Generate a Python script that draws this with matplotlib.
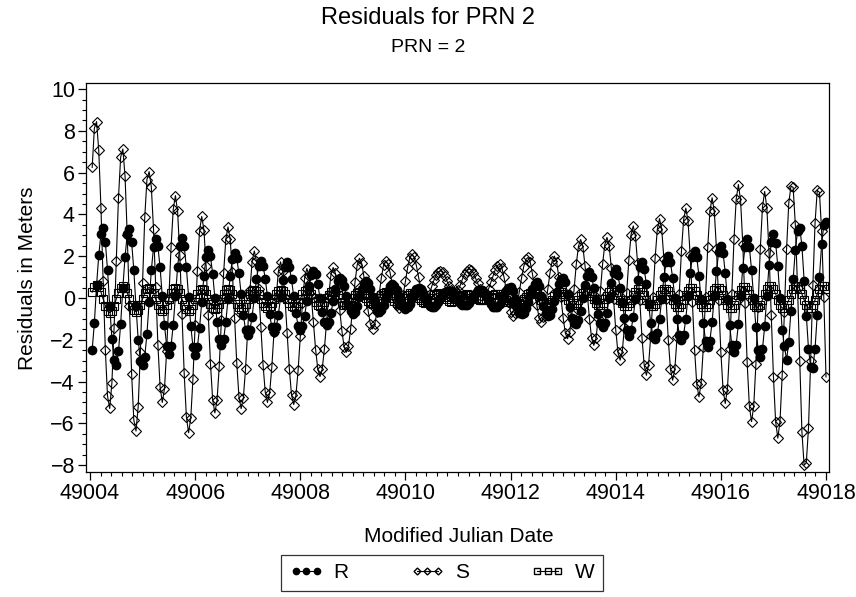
import numpy as np
import matplotlib
matplotlib.use("Agg")
import matplotlib.pyplot as plt
from matplotlib.lines import Line2D
from matplotlib.ticker import MultipleLocator

plt.rcParams['font.family'] = ['Liberation Sans', 'DejaVu Sans']

# hourly epochs: MJD 49004 + 1h ... 49018
start_mjd = 49004.0
hours = np.arange(1, 337)
mjd = start_mjd + hours / 24.0

# residuals in meters, one row per half day (12 hourly values)
resid_r = [
    -2.48, -1.19, 0.6, 2.05, 3.05, 3.37, 2.68, 1.35, -0.39, -1.95, -2.98, -3.19,
    -2.56, -1.24, 0.5, 1.97, 3.05, 3.32, 2.68, 1.34, -0.4, -1.99, -3.03, -3.22,
    -2.81, -1.71, -0.19, 1.32, 2.43, 2.84, 2.47, 1.46, 0.09, -1.29, -2.3, -2.67,
    -2.3, -1.29, 0.09, 1.47, 2.48, 2.85, 2.48, 1.46, 0.07, -1.32, -2.34, -2.71,
    -2.37, -1.46, -0.2, 1.05, 1.96, 2.3, 1.99, 1.16, 0.02, -1.13, -1.96, -2.27,
    -1.97, -1.16, -0.05, 1.06, 1.87, 2.17, 1.9, 1.18, 0.19, -0.8, -1.52, -1.79,
    -1.55, -0.9, -0.01, 0.89, 1.54, 1.78, 1.55, 0.93, 0.08, -0.78, -1.4, -1.63,
    -1.41, -0.8, 0.03, 0.87, 1.48, 1.7, 1.48, 0.89, 0.08, -0.74, -1.33, -1.55,
    -1.36, -0.84, -0.13, 0.59, 1.11, 1.3, 1.13, 0.65, 0.0, -0.65, -1.13, -1.3,
    -1.15, -0.73, -0.16, 0.41, 0.83, 0.98, 0.86, 0.55, 0.11, -0.32, -0.64, -0.76,
    -0.65, -0.37, 0.03, 0.42, 0.71, 0.82, 0.72, 0.45, 0.07, -0.3, -0.58, -0.68,
    -0.59, -0.34, -0.01, 0.33, 0.58, 0.67, 0.59, 0.37, 0.08, -0.22, -0.44, -0.52,
    -0.45, -0.27, -0.01, 0.24, 0.43, 0.5, 0.44, 0.26, 0.03, -0.21, -0.39, -0.45,
    -0.42, -0.33, -0.18, 0.0, 0.17, 0.29, 0.34, 0.35, 0.31, 0.2, 0.05, -0.1,
    -0.23, -0.32, -0.35, -0.32, -0.22, -0.07, 0.1, 0.26, 0.36, 0.4, 0.36, 0.25,
    0.08, -0.1, -0.28, -0.41, -0.45, -0.41, -0.29, -0.1, 0.12, 0.33, 0.47, 0.52,
    0.35, -0.05, -0.45, -0.7, -0.76, -0.7, -0.5, -0.2, 0.15, 0.45, 0.68, 0.75,
    0.55, 0.1, -0.4, -0.72, -0.84, -0.8, -0.55, -0.15, 0.3, 0.68, 0.92, 0.98,
    0.75, 0.2, -0.45, -0.95, -1.2, -1.24, -1.05, -0.6, 0.0, 0.6, 1.05, 1.22,
    1.0, 0.5, -0.1, -0.75, -1.22, -1.4, -1.2, -0.7, 0.0, 0.7, 1.2, 1.38,
    1.1, 0.5, -0.2, -0.95, -1.55, -1.8, -1.55, -0.9, -0.05, 0.85, 1.5, 1.73,
    1.4, 0.65, -0.3, -1.2, -1.8, -1.95, -1.7, -1.0, -0.05, 1.0, 1.7, 2.0,
    1.7, 0.95, 0.0, -1.0, -1.75, -2.03, -1.75, -1.0, 0.1, 1.2, 1.95, 2.25,
    1.95, 1.05, -0.05, -1.2, -2.05, -2.35, -2.05, -1.15, 0.08, 1.3, 2.18, 2.5,
    2.17, 1.2, -0.05, -1.3, -2.25, -2.59, -2.23, -1.24, 0.1, 1.45, 2.44, 2.8,
    2.44, 1.36, -0.02, -1.4, -2.47, -2.83, -2.44, -1.36, 0.11, 1.58, 2.66, 3.05,
    2.64, 1.52, 0.0, -1.53, -2.3, -2.98, -2.1, -0.6, 0.9, 2.3, 3.2, 3.37,
    2.5, 0.83, -0.84, -2.43, -3.3, -3.35, -2.43, -0.8, 1.0, 2.57, 3.5, 3.63,
]

resid_s = [
    6.25, 8.13, 8.44, 7.06, 4.32, 0.79, -2.48, -4.70, -5.29, -4.06, -1.44, 1.78,
    4.79, 6.75, 7.13, 5.83, 3.0, -0.4, -3.62, -5.84, -6.37, -5.2, -2.59, 0.73,
    3.87, 5.67, 6.05, 5.31, 3.29, 0.53, -2.24, -4.26, -5.0, -4.34, -2.52, -0.05,
    2.43, 4.24, 4.9, 4.14, 2.06, -0.77, -3.61, -5.69, -6.45, -5.76, -3.86, -1.27,
    1.31, 3.21, 3.9, 3.27, 1.55, -0.8, -3.15, -4.87, -5.5, -4.9, -3.27, -1.05,
    1.18, 2.8, 3.4, 2.82, 1.23, -0.95, -3.12, -4.72, -5.3, -4.79, -3.41, -1.52,
    0.36, 1.74, 2.25, 1.76, 0.44, -1.37, -3.19, -4.51, -5.0, -4.55, -3.32, -1.63,
    0.05, 1.28, 1.73, 1.27, 0.02, -1.68, -3.39, -4.64, -5.1, -4.66, -3.47, -1.84,
    -0.22, 0.97, 1.41, 1.06, 0.12, -1.17, -2.47, -3.41, -3.76, -3.41, -2.45, -1.15,
    0.16, 1.11, 1.46, 1.19, 0.45, -0.57, -1.58, -2.33, -2.6, -2.3, -1.47, -0.35,
    0.78, 1.6, 1.9, 1.67, 1.06, 0.21, -0.63, -1.25, -1.48, -1.26, -0.66, 0.15,
    0.97, 1.56, 1.78, 1.63, 1.21, 0.64, 0.07, -0.35, -0.5, -0.33, 0.15, 0.8,
    1.45, 1.93, 2.1, 1.95, 1.55, 1.0, 0.45, 0.05, -0.1, -0.05, 0.2, 0.55,
    0.85, 1.1, 1.25, 1.3, 1.22, 1.05, 0.8, 0.55, 0.38, 0.3, 0.3, 0.4,
    0.6, 0.9, 1.15, 1.3, 1.38, 1.35, 1.2, 0.95, 0.7, 0.45, 0.28, 0.2,
    0.25, 0.45, 0.75, 1.05, 1.35, 1.55, 1.62, 1.45, 1.0, 0.4, -0.2, -0.65,
    -0.84, -0.72, -0.3, 0.3, 0.95, 1.5, 1.85, 1.94, 1.7, 1.15, 0.4, -0.35,
    -0.95, -1.14, -0.93, -0.35, 0.43, 1.2, 1.79, 2.0, 1.74, 1.02, 0.03, -0.95,
    -1.68, -1.95, -1.63, -0.76, 0.43, 1.62, 2.48, 2.8, 2.46, 1.53, 0.27, -1.0,
    -1.93, -2.27, -1.92, -0.98, 0.32, 1.61, 2.55, 2.9, 2.51, 1.43, -0.04, -1.51,
    -2.59, -2.98, -2.55, -1.37, 0.24, 1.84, 3.02, 3.45, 2.97, 1.66, -0.12, -1.91,
    -3.22, -3.7, -3.2, -1.82, 0.05, 1.93, 3.3, 3.8, 3.28, 1.87, -0.07, -2.0,
    -3.42, -3.94, -3.39, -1.88, 0.18, 2.24, 3.75, 4.3, 3.7, 2.04, -0.21, -2.47,
    -4.13, -4.73, -4.09, -2.35, 0.04, 2.42, 4.16, 4.8, 4.14, 2.34, -0.12, -2.59,
    -4.39, -5.05, -4.35, -2.43, 0.19, 2.81, 4.73, 5.43, 4.67, 2.59, -0.24, -3.08,
    -5.16, -5.92, -5.18, -3.16, -0.41, 2.35, 4.36, 5.1, 4.31, 2.15, -0.8, -3.76,
    -5.92, -6.71, -5.9, -3.69, -0.68, 2.34, 4.54, 5.35, 5.3, 3.5, 0.5, -3.0,
    -6.4, -8.0, -7.9, -6.24, -3.0, 0.6, 3.6, 5.15, 5.06, 3.2, 0.03, -3.78,
]

resid_w = [
    0.28, 0.52, 0.6, 0.52, 0.28, -0.05, -0.38, -0.62, -0.7, -0.62, -0.38, -0.05,
    0.25, 0.47, 0.55, 0.47, 0.25, -0.05, -0.35, -0.57, -0.65, -0.57, -0.35, -0.05,
    0.23, 0.43, 0.5, 0.43, 0.23, -0.05, -0.33, -0.53, -0.6, -0.53, -0.33, -0.05,
    0.23, 0.43, 0.5, 0.43, 0.23, -0.05, -0.33, -0.53, -0.6, -0.53, -0.33, -0.05,
    0.2, 0.39, 0.45, 0.39, 0.2, -0.05, -0.3, -0.49, -0.55, -0.49, -0.3, -0.05,
    0.21, 0.39, 0.45, 0.39, 0.21, -0.03, -0.27, -0.45, -0.51, -0.45, -0.27, -0.03,
    0.19, 0.34, 0.4, 0.34, 0.19, -0.03, -0.25, -0.4, -0.46, -0.4, -0.25, -0.03,
    0.18, 0.34, 0.39, 0.34, 0.18, -0.03, -0.24, -0.4, -0.45, -0.4, -0.24, -0.03,
    0.17, 0.31, 0.36, 0.31, 0.17, -0.02, -0.21, -0.35, -0.4, -0.35, -0.21, -0.02,
    0.15, 0.28, 0.32, 0.28, 0.15, -0.02, -0.19, -0.32, -0.36, -0.32, -0.19, -0.02,
    0.15, 0.26, 0.3, 0.26, 0.15, 0.0, -0.15, -0.26, -0.3, -0.26, -0.15, 0.0,
    0.14, 0.23, 0.27, 0.23, 0.14, 0.0, -0.14, -0.23, -0.27, -0.23, -0.14, 0.0,
    0.14, 0.23, 0.26, 0.23, 0.14, 0.02, -0.1, -0.19, -0.22, -0.19, -0.1, 0.02,
    0.13, 0.2, 0.23, 0.2, 0.13, 0.03, -0.07, -0.14, -0.17, -0.14, -0.07, 0.03,
    0.08, 0.12, 0.15, 0.17, 0.16, 0.12, 0.06, 0.0, -0.06, -0.1, -0.12, -0.1,
    -0.06, 0.0, 0.07, 0.14, 0.19, 0.2, 0.17, 0.1, 0.0, -0.1, -0.17, -0.2,
    -0.22, -0.24, -0.25, -0.22, -0.15, -0.05, 0.07, 0.17, 0.24, 0.27, 0.25, 0.18,
    0.08, -0.08, -0.21, -0.29, -0.29, -0.21, -0.08, 0.08, 0.21, 0.29, 0.29, 0.21,
    0.09, -0.09, -0.23, -0.32, -0.32, -0.23, -0.09, 0.09, 0.23, 0.32, 0.32, 0.23,
    0.11, -0.07, -0.23, -0.33, -0.33, -0.23, -0.07, 0.11, 0.27, 0.37, 0.37, 0.27,
    0.12, -0.08, -0.26, -0.37, -0.37, -0.26, -0.08, 0.12, 0.3, 0.41, 0.41, 0.3,
    0.14, -0.08, -0.27, -0.38, -0.38, -0.27, -0.08, 0.14, 0.33, 0.44, 0.44, 0.33,
    0.15, -0.09, -0.29, -0.41, -0.41, -0.29, -0.09, 0.15, 0.35, 0.47, 0.47, 0.35,
    0.15, -0.09, -0.31, -0.43, -0.43, -0.31, -0.09, 0.15, 0.37, 0.5, 0.5, 0.37,
    0.16, -0.1, -0.33, -0.46, -0.46, -0.33, -0.1, 0.16, 0.38, 0.51, 0.51, 0.38,
    0.19, -0.09, -0.32, -0.45, -0.45, -0.32, -0.09, 0.19, 0.42, 0.55, 0.55, 0.42,
    0.19, -0.09, -0.34, -0.48, -0.48, -0.34, -0.09, 0.19, 0.44, 0.58, 0.58, 0.44,
    0.19, -0.09, -0.34, -0.48, -0.48, -0.34, -0.09, 0.19, 0.44, 0.58, 0.58, 0.44,
]

series_names = ['R', 'S', 'W']

fig = plt.figure(figsize=(8.56, 5.97), dpi=100)
ax = fig.add_axes([86 / 856, 1 - 472 / 597, 743 / 856, 389 / 597])

ax.plot(mjd, resid_r, color='black', lw=0.8, marker='o', ms=6,
        mfc='black', mec='black', label='R')
ax.plot(mjd, resid_s, color='black', lw=0.8, marker='D', ms=4.8,
        mfc='none', mec='black', mew=0.8, label='S')
ax.plot(mjd, resid_w, color='black', lw=0.8, marker='s', ms=5.5,
        mfc='none', mec='black', mew=0.8, label='W')

ax.set_xlim(49003.924, 49018.057)
ax.set_ylim(-8.33, 10.29)
ax.xaxis.set_major_locator(MultipleLocator(2))
ax.xaxis.set_minor_locator(MultipleLocator(0.2))
ax.yaxis.set_major_locator(MultipleLocator(2))
ax.yaxis.set_minor_locator(MultipleLocator(0.5))
ax.xaxis.set_major_formatter(plt.FuncFormatter(lambda v, p: f'{v:.0f}'))
ax.tick_params(which='major', direction='out', length=6, width=0.9,
               labelsize=15.5, pad=2, top=False, right=False)
ax.tick_params(which='minor', direction='out', length=3, width=0.8,
               top=False, right=False)
for sp in ax.spines.values():
    sp.set_linewidth(0.9)

fig.text(0.5, 1 - 18 / 597, 'Residuals for PRN 2', ha='center', va='center',
         fontsize=17)
fig.text(0.5, 1 - 47 / 597, 'PRN = 2', ha='center', va='center', fontsize=14)
fig.text(28 / 856, 1 - 278 / 597, 'Residuals in Meters', ha='center',
         va='center', rotation=90, fontsize=15)
fig.text(459 / 856, 1 - 536 / 597, 'Modified Julian Date', ha='center',
         va='center', fontsize=15)

handles = [
    Line2D([], [], color='black', lw=0.8, marker='o', ms=4.5, mfc='black'),
    Line2D([], [], color='black', lw=0.8, marker='D', ms=3.5, mfc='none'),
    Line2D([], [], color='black', lw=0.8, marker='s', ms=4.5, mfc='none'),
]
leg = fig.legend(handles, series_names, loc='center',
                 bbox_to_anchor=(442 / 856, 1 - 573 / 597), ncol=3,
                 numpoints=3, fontsize=15, frameon=True, fancybox=False,
                 edgecolor='black', handlelength=1.6, handletextpad=0.5,
                 columnspacing=3.0, borderpad=0.4)
leg.get_frame().set_linewidth(0.9)

fig.savefig('out.png', dpi=100)
